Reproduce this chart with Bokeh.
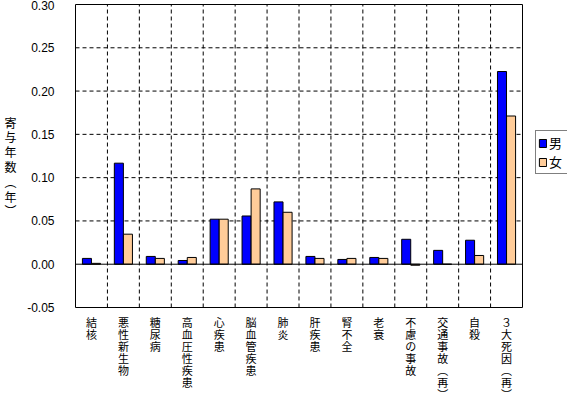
from bokeh.plotting import figure
from bokeh.models import (Range1d, FixedTicker, Legend, LegendItem, ColumnDataSource,
                          LinearAxis)
from bokeh.core.properties import value
from bokeh.transform import dodge
from bokeh.embed import file_html
from bokeh.resources import INLINE

categories = ["結核", "悪性新生物", "糖尿病", "高血圧性疾患", "心疾患", "脳血管疾患", "肺炎",
              "肝疾患", "腎不全", "老衰", "不慮の事故", "交通事故（再）", "自殺", "３大死因（再）"]
male = [0.0067, 0.1167, 0.0090, 0.0043, 0.0520, 0.0557, 0.0720, 0.0090, 0.0055, 0.0078,
        0.0288, 0.0160, 0.0277, 0.2226]
female = [0.0010, 0.0347, 0.0067, 0.0078, 0.0520, 0.0870, 0.0600, 0.0067, 0.0067, 0.0067,
          -0.0012, 0.0000, 0.0101, 0.1712]
y_ticks = [-0.05, 0.0, 0.05, 0.10, 0.15, 0.20, 0.25, 0.30]
y_tick_labels = ["-0.05", "0.00", "0.05", "0.10", "0.15", "0.20", "0.25", "0.30"]
series_names = ["男", "女"]
y_title = "寄与年数（年）"


def vertical(s):
    s = s.replace("（", "︵").replace("）", "︶")
    return "\n".join(list(s))


n = len(categories)
y_min, y_max = y_ticks[0], y_ticks[-1]

# ---- layout in pixels ----
W, H = 567, 398
left_border, top_border = 74, 3
plot_w_px, plot_h_px = 447, 303          # size of the bar area
ppx = plot_w_px / n                       # pixels per category
ppy = plot_h_px / (y_max - y_min)         # pixels per data unit (y)
x_start = -1 / ppx
x_end = x_start + (W - left_border) / ppx
y_end = y_max + 1 / ppy
y_start = y_end - (H - top_border) / ppy
label_y = y_min - 6 / ppy                 # top of the category labels
title_y = y_max - 162 / ppy               # anchor of the vertical axis title

src = ColumnDataSource(dict(x=[i + 0.5 for i in range(n)], male=male, female=female,
                            label=[vertical(c) for c in categories], ly=[label_y] * n))

p = figure(width=W, height=H, output_backend="svg", toolbar_location=None,
           x_range=Range1d(x_start, x_end), y_range=Range1d(y_start, y_end),
           min_border_left=left_border, min_border_right=0, min_border_top=top_border,
           min_border_bottom=0)
p.background_fill_color = "white"
p.border_fill_color = "white"
p.outline_line_color = None
p.xaxis.visible = False
p.xgrid.grid_line_color = None
p.ygrid.grid_line_color = None

# dashed grid lines over the bar area
grid_y = [t for t in y_ticks if y_min < t < y_max and t != 0.0]
p.segment(x0=[0] * len(grid_y), x1=[n] * len(grid_y), y0=grid_y, y1=grid_y,
          line_color="black", line_dash="4 3", line_width=1)
grid_x = list(range(1, n))
p.segment(x0=grid_x, x1=grid_x, y0=[y_min] * len(grid_x), y1=[y_max] * len(grid_x),
          line_color="black", line_dash="4 3", line_width=1)

r_m = p.vbar(x=dodge("x", -0.142), top="male", bottom=0, width=0.283, source=src,
             fill_color="#0000FF", line_color="black", line_width=1)
r_f = p.vbar(x=dodge("x", 0.142), top="female", bottom=0, width=0.283, source=src,
             fill_color="#FFCC99", line_color="black", line_width=1)

# zero line and border of the bar area
p.segment(x0=[0, 0, 0, 0, n], x1=[n, n, n, 0, n], y0=[0.0, y_max, y_min, y_min, y_min],
          y1=[0.0, y_max, y_min, y_max, y_max], line_color="black", line_width=1)

# stacked (vertical) category labels
p.text(x="x", y="ly", text="label", source=src, text_align="center", text_baseline="top",
       text_font=value("Noto Sans CJK JP"), text_font_size="11px", text_line_height=0.76,
       text_color="black")

# y axis: tick labels
yax = p.yaxis[0]
yax.ticker = FixedTicker(ticks=y_ticks)
yax.major_label_overrides = {t: l for t, l in zip(y_ticks, y_tick_labels)}
yax.major_tick_line_color = None
yax.minor_tick_line_color = None
yax.axis_line_color = None
yax.major_label_text_font = "Liberation Sans"
yax.major_label_text_font_size = "12px"
yax.major_label_text_color = "black"
yax.major_label_standoff = 14

# y axis title (stacked vertical text) as a second axis further left
tax = LinearAxis(ticker=FixedTicker(ticks=[title_y]),
                 major_label_overrides={title_y: vertical(y_title)})
tax.major_tick_line_color = None
tax.minor_tick_line_color = None
tax.axis_line_color = None
tax.major_label_text_font = "Noto Sans CJK JP"
tax.major_label_text_font_size = "12px"
tax.major_label_text_line_height = 0.87
tax.major_label_text_color = "black"
tax.major_label_standoff = 2
p.add_layout(tax, "left")

legend = Legend(items=[LegendItem(label=series_names[0], renderers=[r_m]),
                       LegendItem(label=series_names[1], renderers=[r_f])],
                location=(461, 224))
legend.border_line_color = "black"
legend.border_line_width = 1
legend.background_fill_color = "white"
legend.padding = 2
legend.spacing = 0
legend.margin = 0
legend.glyph_width = 9
legend.glyph_height = 10
legend.label_height = 15
legend.label_standoff = 2
legend.label_text_font = "Noto Sans CJK JP"
legend.label_text_font_size = "13px"
legend.label_text_color = "black"
p.add_layout(legend, "center")

open("out.html", "w").write(file_html(p, INLINE))
